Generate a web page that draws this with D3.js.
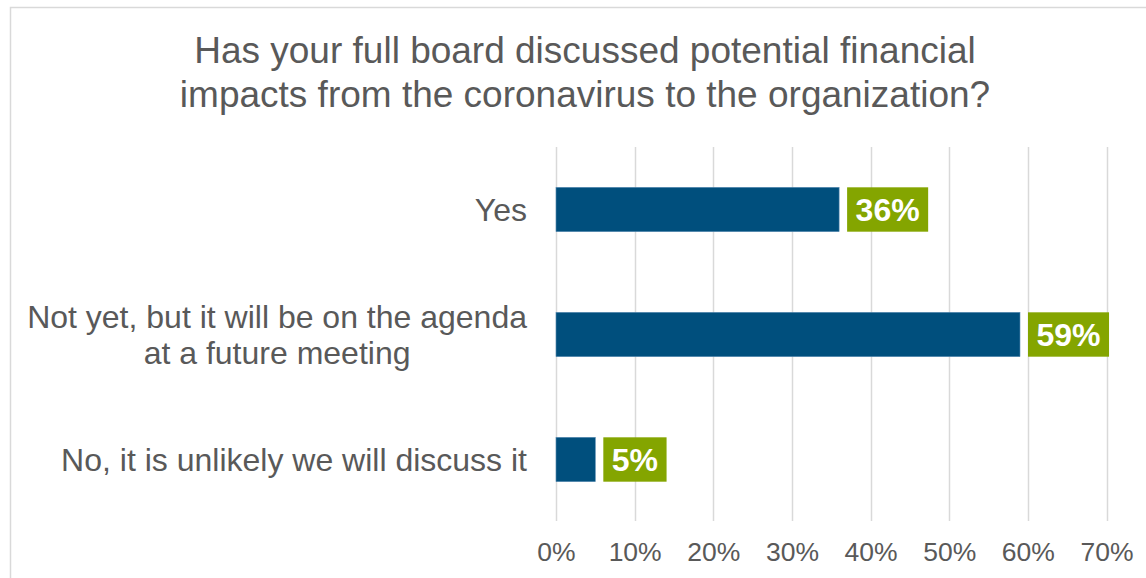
<!DOCTYPE html>
<html>
<head>
<meta charset="utf-8">
<script src="https://cdn.jsdelivr.net/npm/d3@7"></script>
<style>
  html, body { margin: 0; padding: 0; background: #fff; }
  svg { display: block; font-family: "Liberation Sans", Arial, sans-serif; }
</style>
</head>
<body>
<svg id="chart" width="1146" height="578"></svg>
<script>
// Survey responses (share of respondents)
const categories = [
  ["Yes"],
  ["Not yet, but it will be on the agenda", "at a future meeting"],
  ["No, it is unlikely we will discuss it"]
];
const values = [0.36, 0.59, 0.05];
const tickValues = [0, 0.1, 0.2, 0.3, 0.4, 0.5, 0.6, 0.7];
const titleLines = [
  "Has your full board discussed potential financial",
  "impacts from the coronavirus to the organization?"
];

const svg = d3.select("#chart");
const textColor = "#595959";
const barColor = "#004F7D";
const labelBg = "#84A500";

// chart frame
svg.append("rect")
  .attr("x", 10.5).attr("y", 7.5)
  .attr("width", 1160).attr("height", 600)
  .attr("fill", "#fff")
  .attr("stroke", "#d9d9d9").attr("stroke-width", 1.5);

// title
const title = svg.append("text")
  .attr("text-anchor", "middle")
  .attr("fill", textColor)
  .attr("font-size", 37);
title.selectAll("tspan").data(titleLines).join("tspan")
  .attr("x", 585)
  .attr("y", (d, i) => 63 + i * 44)
  .text(d => d);

const x = d3.scaleLinear().domain([0, 0.7]).range([556, 1106.5]);
const y = d3.scaleBand().domain(d3.range(values.length)).range([147, 522]).paddingInner(0.645).paddingOuter(0.3225);

// vertical gridlines
svg.append("g").selectAll("line").data(tickValues).join("line")
  .attr("x1", d => Math.round(x(d)) + 0.5).attr("x2", d => Math.round(x(d)) + 0.5)
  .attr("y1", 147).attr("y2", 521)
  .attr("stroke", "#d9d9d9").attr("stroke-width", 1.5);

// x axis labels
const xAxis = d3.axisBottom(x).tickValues(tickValues).tickFormat(d3.format(".0%")).tickSize(0).tickPadding(0);
const gx = svg.append("g").attr("transform", "translate(0,541)").call(xAxis);
gx.select(".domain").remove();
gx.selectAll("text")
  .attr("font-family", "Liberation Sans, Arial, sans-serif")
  .attr("font-size", 26.5)
  .attr("fill", textColor)
  .attr("dy", "0.76em");

// category labels
const cat = svg.append("g").selectAll("text").data(categories).join("text")
  .attr("text-anchor", "middle")
  .attr("fill", textColor)
  .attr("font-size", 32);
cat.each(function(lines, i) {
  const t = d3.select(this);
  const n = lines.length;
  const cy = y(i) + y.bandwidth() / 2;
  // lines are centred on each other, block right-aligned at the axis
  const tmp = t.append("tspan").text(lines.reduce((a, b) => a.length > b.length ? a : b));
  const w = tmp.node().getComputedTextLength();
  tmp.remove();
  const cx = 527 - w / 2;
  lines.forEach((ln, j) => {
    t.append("tspan")
      .attr("x", cx)
      .attr("y", cy + (j - (n - 1) / 2) * 36)
      .attr("dy", "0.35em")
      .text(ln);
  });
});

// bars
svg.append("g").selectAll("rect").data(values).join("rect")
  .attr("x", x(0))
  .attr("y", (d, i) => y(i))
  .attr("width", d => x(d) - x(0))
  .attr("height", y.bandwidth())
  .attr("fill", barColor)
  .attr("stroke", "#5b8db3").attr("stroke-width", 0.6);

// value labels with filled box
const lbl = svg.append("g").selectAll("g").data(values).join("g");
lbl.each(function(d, i) {
  const g = d3.select(this);
  const t = g.append("text")
    .attr("font-size", 32).attr("font-weight", "bold")
    .attr("fill", "#fff")
    .attr("dy", "0.35em")
    .text(d3.format(".0%")(d));
  const w = t.node().getComputedTextLength();
  const x0 = x(d) + 8;
  g.insert("rect", "text")
    .attr("x", x0).attr("y", y(i))
    .attr("width", w + 17).attr("height", y.bandwidth())
    .attr("fill", labelBg);
  t.attr("x", x0 + 8.5).attr("y", y(i) + y.bandwidth() / 2);
});
</script>
</body>
</html>
